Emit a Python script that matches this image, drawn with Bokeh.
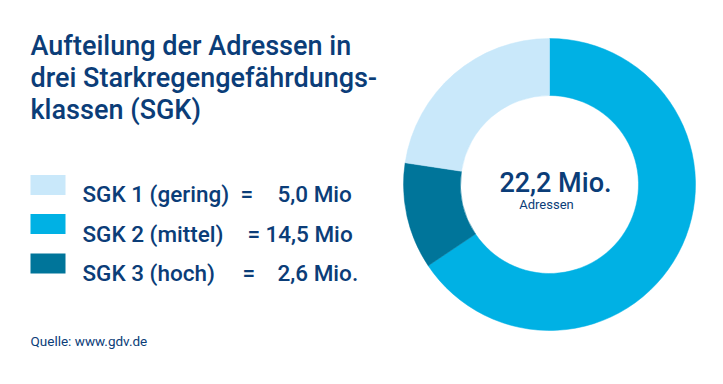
from bokeh.plotting import figure
from bokeh.models import Range1d, ColumnDataSource
from bokeh.core.properties import value
from bokeh.embed import file_html
from bokeh.resources import INLINE
import numpy as np

# ---- data ----
title_lines = ["Aufteilung der Adressen in", "drei Starkregengefährdungs-", "klassen (SGK)"]
categories = ["SGK 1 (gering)", "SGK 2 (mittel)", "SGK 3 (hoch)"]
values_mio = [5.0, 14.5, 2.6]
value_labels = ["5,0 Mio", "14,5 Mio", "2,6 Mio."]
colors = ["#C9E8FA", "#00B1E4", "#00759A"]
total_label = "22,2 Mio."
total_sub = "Adressen"
source_note = "Quelle: www.gdv.de"

NAVY = "#0B3D78"
FONT = "Roboto"
FONT_MED = "Roboto Medium"

W, H = 707, 368
p = figure(width=W, height=H, output_backend="svg", toolbar_location=None,
           x_range=Range1d(0, W), y_range=Range1d(384 - 8 - H, 384 - 8),
           min_border=0, outline_line_color=None)
p.axis.visible = False
p.grid.visible = False
p.background_fill_color = "white"
p.border_fill_color = "white"

def Y(yref):
    return 384 - yref

# ---- donut (clockwise from top: SGK2, SGK3, SGK1) ----
order = [1, 2, 0]
total = sum(values_mio)
start = np.pi / 2
starts, ends, cols = [], [], []
for i in order:
    frac = values_mio[i] / total
    end = start - frac * 2 * np.pi
    starts.append(start)
    ends.append(end)
    cols.append(colors[i])
    start = end
src = ColumnDataSource(dict(x=[549] * 3, y=[Y(192)] * 3, s=starts, e=ends, c=cols))
p.annular_wedge(x="x", y="y", inner_radius=89, outer_radius=146,
                inner_radius_units="screen", outer_radius_units="screen",
                start_angle="s", end_angle="e", direction="clock",
                fill_color="c", line_color="c", line_width=0.5, source=src)

p.text(x=[555], y=[Y(190)], text=[total_label], text_font=value(FONT_MED),
       text_font_size="27px", text_color=NAVY, text_align="center",
       text_baseline="alphabetic")
p.text(x=[546], y=[Y(212)], text=[total_sub], text_font=value(FONT),
       text_font_size="13px", text_color=NAVY, text_align="center",
       text_baseline="alphabetic")

# ---- title ----
p.text(x=[30] * 3, y=[Y(53), Y(85), Y(117)], text=title_lines, text_font=value(FONT_MED),
       text_font_size="27px", text_color=NAVY, text_baseline="alphabetic")

# ---- legend ----
row_base = [201, 241, 280]
row_mid = [192.5, 231.5, 271]
p.rect(x=[47.5] * 3, y=[Y(v) for v in row_mid], width=35, height=20,
       fill_color=colors, line_color=None)
p.text(x=[82] * 3, y=[Y(v) for v in row_base], text=categories, text_font=value(FONT_MED),
       text_font_size="22.5px", text_color=NAVY, text_baseline="alphabetic")
p.text(x=[240, 247, 242], y=[Y(v) for v in row_base], text=["="] * 3, text_font=value(FONT_MED),
       text_font_size="22.5px", text_color=NAVY, text_baseline="alphabetic")
p.text(x=[277, 265, 277], y=[Y(v) for v in row_base], text=value_labels, text_font=value(FONT_MED),
       text_font_size="22.5px", text_color=NAVY, text_baseline="alphabetic")

# ---- source ----
p.text(x=[30], y=[Y(348)], text=[source_note], text_font=value(FONT),
       text_font_size="13.5px", text_color=NAVY, text_baseline="alphabetic")

open("out.html", "w").write(file_html(p, INLINE))
